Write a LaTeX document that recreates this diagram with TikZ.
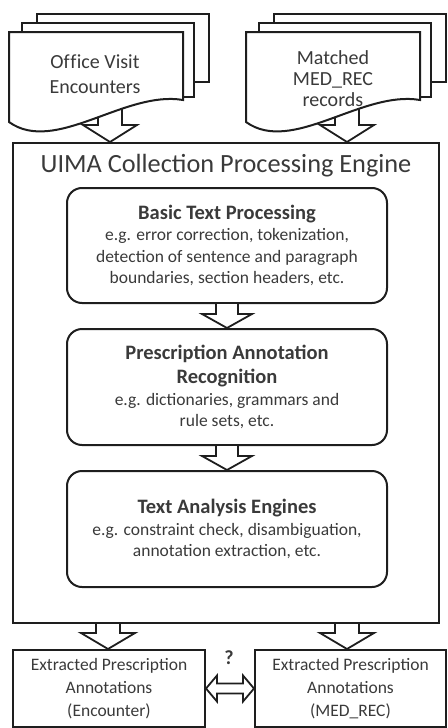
\documentclass[tikz,border=0pt]{standalone}
\usepackage{fontspec}
\setmainfont{Carlito}
\usetikzlibrary{calc}
\pgfdeclarelayer{bg}
\pgfsetlayers{bg,main}
\definecolor{txt}{HTML}{3A3A3A}
\definecolor{ln}{HTML}{1E1E1E}
\newcommand\hdfont{\bfseries\fontsize{20.5}{24.5}\selectfont}
\newcommand\blockdown[5]{% from, to, shaft half, head half, head length
  \draw[blk] let \p1=(#1), \p2=(#2) in
    (\x2-#3pt,\y1) -- (\x2-#3pt,\y2+#5pt) -- (\x2-#4pt,\y2+#5pt) -- (\x2,\y2)
    -- (\x2+#4pt,\y2+#5pt) -- (\x2+#3pt,\y2+#5pt) -- (\x2+#3pt,\y1);}
\begin{document}
\begin{tikzpicture}[x=1pt,y=-1pt,
  every node/.style={text=txt, inner sep=0pt},
  line/.style={draw=ln, line width=2pt},
  stage/.style={line, rounded corners=15pt, minimum width=320pt, minimum height=115pt,
    align=center, font=\fontsize{17.5}{21.5}\selectfont},
  outbox/.style={line, minimum width=192pt, minimum height=77pt, align=center,
    font=\fontsize{17.5}{23}\selectfont},
  blk/.style={draw=ln, line width=1.8pt, fill=white, line join=miter},
  page/.style={draw=ln, line width=2pt, fill=white}]
\useasboundingbox (0,0) rectangle (447,728);

% document stacks
\draw[page] (37,14) rectangle (209,82);
\draw[page] (22,23) rectangle (194,97);
\draw[page] (9,32) -- (183,32) -- (183,100) .. controls (125,90) and (55,155) .. (9,122) -- cycle;
\begin{scope}[shift={(237,0)}]
\draw[page] (37,14) rectangle (209,82);
\draw[page] (22,23) rectangle (194,97);
\draw[page] (9,32) -- (183,32) -- (183,100) .. controls (125,90) and (55,155) .. (9,122) -- cycle;
\end{scope}
\node[align=center, font=\fontsize{20}{25}\selectfont] (d1) at (95,74) {Of\kern0.5ptf\kern0.5ptice Visit\\Encounters};
\node[align=center, font=\fontsize{20}{21}\selectfont] (d2) at (333,79) {Matched\\MED\_REC\\records};
\coordinate (d1out) at (110,100);
\coordinate (d2out) at (347,100);

% main engine box
\node[line, minimum width=426pt, minimum height=480pt] (cpe) at (226,383) {};
\node[font=\fontsize{26.3}{30}\selectfont] (title) at (226,166) {UIMA Collection Processing Engine};

\node[stage] (s1) at (227,245.5) {{\hdfont Basic Text Processing}\\e.g. error correction,  tokenization,\\detection of sentence and paragraph\\boundaries, section headers, etc.};
\node[stage, minimum height=116pt] (s2) at (227,387) {{\hdfont Prescription Annotation}\\[2.5pt]{\hdfont Recognition}\\e.g. dictionaries, grammars and\\rule sets, etc.};
\node[stage, minimum height=116pt] (s3) at (227,529) {{\hdfont Text Analysis Engines}\\e.g. constraint check, disambiguation,\\annotation extraction, etc.};

% outputs
\node[outbox] (o1) at (109,688.5) {Extracted Prescription\\Annotations\\(Encounter)};
\node[outbox, minimum width=191pt] (o2) at (350.5,688.5) {Extracted Prescription\\Annotations\\(MED\_REC)};
\node[font=\bfseries\fontsize{20}{24}\selectfont] (q) at (229,658) {?};

\begin{pgfonlayer}{bg}
\blockdown{d1out}{d1out |- cpe.north}{12}{27}{17}
\blockdown{d2out}{d2out |- cpe.north}{12}{27}{17}
\end{pgfonlayer}
\blockdown{s1.south}{s2.north}{11}{25}{14}
\blockdown{s2.south}{s3.north}{11}{25}{14}
\coordinate (b1) at (108,0);
\coordinate (b2) at (347,0);
\blockdown{b1 |- cpe.south}{b1 |- o1.north}{12}{27}{16}
\blockdown{b2 |- cpe.south}{b2 |- o2.north}{12}{27}{16}
\draw[blk] let \p1=(o1.east), \p2=(o2.west) in
  (\x1,\y1) -- (\x1+11pt,\y1+13pt) -- (\x1+11pt,\y1+5pt) -- (\x2-11pt,\y1+5pt)
  -- (\x2-11pt,\y1+13pt) -- (\x2,\y1) -- (\x2-11pt,\y1-13pt) -- (\x2-11pt,\y1-5pt)
  -- (\x1+11pt,\y1-5pt) -- (\x1+11pt,\y1-13pt) -- cycle;
\end{tikzpicture}
\end{document}
